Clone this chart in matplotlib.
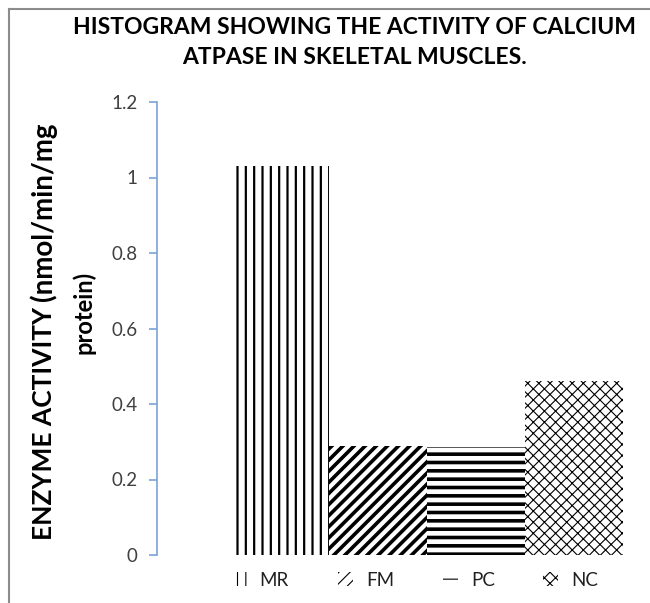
import matplotlib
matplotlib.use("Agg")
import matplotlib.pyplot as plt
from matplotlib.lines import Line2D

# data
groups = ["MR", "FM", "PC", "NC"]
activity = [1.03, 0.29, 0.285, 0.46]
hatches = ["||", "///", "--", "xxx"]
hatch_widths = [1.6, 2.6, 2.6, 0.8]
y_ticks = [0, 0.2, 0.4, 0.6, 0.8, 1.0, 1.2]
y_tick_labels = ["0", "0.2", "0.4", "0.6", "0.8", "1", "1.2"]

W, H = 650, 603
plt.rcParams['font.family'] = ['Lato', 'DejaVu Sans']

fig = plt.figure(figsize=(W / 100, H / 100), dpi=100)

# chart-area border (only left and top are inside the picture)
bx, by = 8.5 / W, 1 - 8.5 / H
fig.add_artist(Line2D([bx, bx], [0, by], transform=fig.transFigure, color='#8c8c8c', lw=1.5))
fig.add_artist(Line2D([bx, 1], [by, by], transform=fig.transFigure, color='#8c8c8c', lw=1.5))

x0, x1 = 157, 650
y0, y1 = 555, 102
ax = fig.add_axes([x0 / W, (H - y0) / H, (x1 - x0) / W, (y0 - y1) / H])

for i, (g, v, h, lw) in enumerate(zip(groups, activity, hatches, hatch_widths)):
    plt.rcParams['hatch.linewidth'] = lw
    ax.bar(i, v, width=1.0, color='white', edgecolor='black', linewidth=0,
           hatch=h, label=g)

ax.set_xlim(-1.255, 3.776)
ax.set_ylim(0, 1.2)
ax.set_yticks(y_ticks)
ax.set_yticklabels(y_tick_labels)
ax.set_xticks([])
for s in ['top', 'right', 'bottom']:
    ax.spines[s].set_visible(False)
ax.spines['left'].set_color('#7aa3d6')
ax.spines['left'].set_linewidth(1.2)
ax.tick_params(axis='y', colors='#7aa3d6', length=6, width=1.2, pad=8,
               labelsize=13.5, labelcolor='#404040')

ax.legend(loc='center', bbox_to_anchor=(415 / W, (H - 580) / H),
          bbox_transform=fig.transFigure, ncol=4, frameon=False,
          fontsize=13.5, handlelength=0.8, handleheight=0.8,
          handletextpad=0.7, columnspacing=2.6, labelcolor='#202020')

fig.text(355 / W, 1 - 28 / H, "HISTOGRAM SHOWING THE ACTIVITY OF CALCIUM",
         ha='center', va='center', fontsize=16.5, fontweight='bold')
fig.text(355 / W, 1 - 58 / H, "ATPASE IN SKELETAL MUSCLES.",
         ha='center', va='center', fontsize=16.5, fontweight='bold')

# y axis title, first line in two pieces
t1 = fig.text(52 / W, 1 - 540 / H, "ENZYME ACTIVITY ", rotation=90,
              rotation_mode='anchor', ha='left', va='baseline',
              fontsize=19, fontweight='bold')
fig.canvas.draw()
bb = t1.get_window_extent()
fig.text(52 / W, bb.y1 / H, "(nmol/min/mg", rotation=90,
         rotation_mode='anchor', ha='left', va='baseline',
         fontsize=20, fontweight='bold')
fig.text(91 / W, 1 - 312 / H, "protein)", rotation=90,
         rotation_mode='anchor', ha='center', va='baseline',
         fontsize=17, fontweight='bold')

fig.savefig("out.png", dpi=100)
